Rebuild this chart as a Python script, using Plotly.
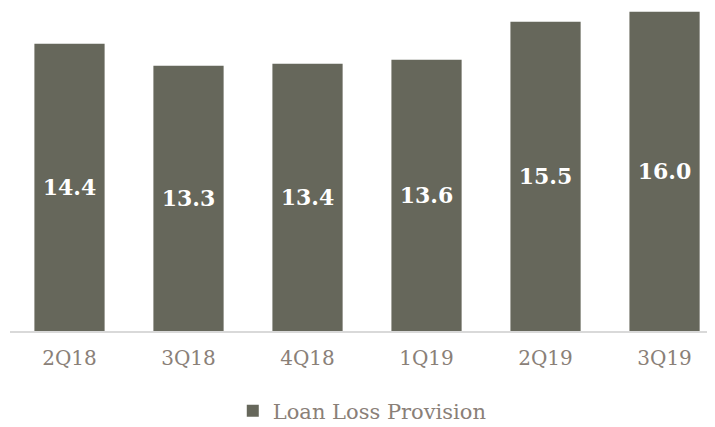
import plotly.graph_objects as go

categories = ["2Q18", "3Q18", "4Q18", "1Q19", "2Q19", "3Q19"]
loan_loss_provision = [14.4, 13.3, 13.4, 13.6, 15.5, 16.0]
series_name = "Loan Loss Provision"

bar_color = "#66675b"
label_color = "#8a8078"

fig = go.Figure()
fig.add_trace(go.Bar(
    x=categories,
    y=loan_loss_provision,
    name=series_name,
    marker=dict(color=bar_color, line=dict(width=0)),
    width=0.59,
    texttemplate="%{y:.1f}",
    textposition="inside",
    insidetextanchor="middle",
    textangle=0,
    textfont=dict(family="DejaVu Serif", size=22, color="white", weight="bold"),
    showlegend=True,
))

# page body has an 8px default margin; offset the layout accordingly
fig.update_layout(
    width=707, height=427,
    margin=dict(l=2, r=0, t=0, b=104),
    paper_bgcolor="white",
    plot_bgcolor="white",
    font=dict(family="DejaVu Serif", color=label_color),
    xaxis=dict(
        range=[-0.5, 5.424],
        showline=True, linecolor="#d9d9d9", linewidth=1.5,
        ticks="", showgrid=False, zeroline=False,
        tickfont=dict(family="DejaVu Serif", size=20, color=label_color),
        ticklabelstandoff=8,
    ),
    yaxis=dict(
        range=[0, 16.19], visible=False, showgrid=False, zeroline=False,
    ),
    showlegend=True,
    legend=dict(
        orientation="h",
        x=0.316, xanchor="left",
        y=-0.2477, yanchor="middle",
        font=dict(family="DejaVu Serif", size=21, color=label_color),
        itemwidth=30,
    ),
)

fig.write_html("out.html")
